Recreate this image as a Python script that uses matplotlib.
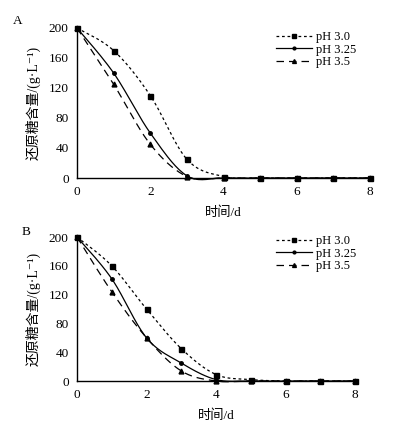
import numpy as np
import matplotlib
matplotlib.use('Agg')
import matplotlib.pyplot as plt

plt.rcParams['font.family'] = ['Liberation Serif', 'Noto Sans CJK SC', 'DejaVu Sans']

# data: reducing sugar (g/L) vs. time (d)
days = [0, 1, 2, 3, 4, 5, 6, 7, 8]
labels = ['pH 3.0', 'pH 3.25', 'pH 3.5']

a_ph30 = [200, 170, 110, 25, 2, 0, 0, 0, 0]
a_ph325 = [200, 140, 60, 3, 0, 0, 0, 0, 0]
a_ph35 = [200, 125, 45, 2, 0, 0, 0, 0, 0]

b_ph30 = [200, 160, 100, 45, 9, 2, 0, 0, 0]
b_ph325 = [200, 142, 60, 25, 2, 0, 0, 0, 0]
b_ph35 = [200, 124, 60, 14, 0, 0, 0, 0, 0]

yticks = [0, 40, 80, 120, 160, 200]
xticks = [0, 2, 4, 6, 8]

styles = [
    dict(ls=(0, (2.2, 2.2)), marker='s', ms=3.6),
    dict(ls='-', marker='o', ms=2.5),
    dict(ls=(0, (6, 4)), marker='^', ms=3.5),
]


def smooth(x, y, n=20):
    # Excel-like smoothed line (cardinal Bezier through the points)
    x = np.asarray(x, float)
    y = np.asarray(y, float)
    px = np.concatenate([[x[0]], x, [x[-1]]])
    py = np.concatenate([[y[0]], y, [y[-1]]])
    xs, ys = [], []
    t = np.linspace(0, 1, n)
    for i in range(1, len(px) - 2):
        p0 = np.array([px[i], py[i]])
        p3 = np.array([px[i + 1], py[i + 1]])
        p1 = p0 + (np.array([px[i + 1], py[i + 1]]) - np.array([px[i - 1], py[i - 1]])) / 6
        p2 = p3 - (np.array([px[i + 2], py[i + 2]]) - np.array([px[i], py[i]])) / 6
        b = ((1 - t) ** 3)[:, None] * p0 + (3 * (1 - t) ** 2 * t)[:, None] * p1 \
            + (3 * (1 - t) * t ** 2)[:, None] * p2 + (t ** 3)[:, None] * p3
        xs.extend(b[:, 0])
        ys.extend(b[:, 1])
    return np.array(xs), np.array(ys)


def panel(ax, series, legend_xy):
    for vals, lab, st in zip(series, labels, styles):
        sx, sy = smooth(days, vals)
        ax.plot(sx, sy, color='black', lw=0.9, ls=st['ls'], clip_on=False)
        ax.plot(days, vals, ls='none', marker=st['marker'], ms=st['ms'],
                color='black', clip_on=False, zorder=3)
    handles = [plt.Line2D([], [], color='black', lw=0.9, ls=st['ls'],
                          marker=st['marker'], ms=st['ms'] * 0.8) for st in styles]
    ax.legend(handles, labels, loc='upper left', bbox_to_anchor=legend_xy,
              bbox_transform=fig.transFigure, frameon=False, fontsize=9,
              handlelength=2.9, handletextpad=0.3, labelspacing=0.05,
              borderpad=0, borderaxespad=0)
    ax.set_xlim(0, 8)
    ax.set_ylim(0, 200)
    ax.set_xticks(xticks)
    ax.set_yticks(yticks)
    ax.tick_params(length=0, labelsize=9.5, pad=6)
    for s in ['top', 'right']:
        ax.spines[s].set_visible(False)
    for s in ['left', 'bottom']:
        ax.spines[s].set_linewidth(1.0)
    ax.set_xlabel('时间/d', fontsize=9.5, labelpad=6)
    ax.set_ylabel('还原糖含量/(g·L⁻¹)', fontsize=10, labelpad=6)


fig = plt.figure(figsize=(3.98, 4.26), dpi=100)
W, H = 398.0, 426.0
axA = fig.add_axes([77 / W, 1 - 178 / H, (370 - 77) / W, 150 / H])
axB = fig.add_axes([77 / W, 1 - 381 / H, (355 - 77) / W, 144 / H])

panel(axA, [a_ph30, a_ph325, a_ph35], (276 / W, 1 - 31 / H))
panel(axB, [b_ph30, b_ph325, b_ph35], (276 / W, 1 - 235 / H))

fig.text(13 / W, 1 - 21 / H, 'A', fontsize=9.5, va='center')
fig.text(22 / W, 1 - 232 / H, 'B', fontsize=9.5, va='center')

fig.savefig('out.png', dpi=100)
